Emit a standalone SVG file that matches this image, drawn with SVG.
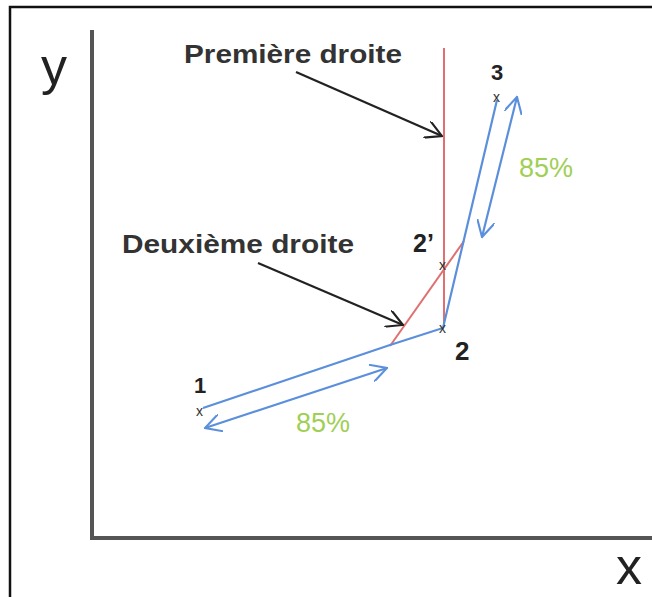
<svg xmlns="http://www.w3.org/2000/svg" width="652" height="597" viewBox="0 0 652 597">
<style>
.lbl{font-family:"Liberation Sans",Arial,sans-serif;fill:#222;}
.big{font-size:26px;font-weight:bold;fill:#333;}
.ax{font-size:52px;fill:#222;}
.pct{font-family:"Liberation Sans",Arial,sans-serif;font-size:27px;fill:#9fcf55;}
.mk{font-family:"Liberation Sans",Arial,sans-serif;font-size:14px;fill:#333;}
.blue{stroke:#5b8fdc;stroke-width:2.2;fill:none;}
.red{stroke:#e07070;stroke-width:2;fill:none;}
.blk{stroke:#222;stroke-width:2.2;fill:none;}
</style>
<defs>
<marker id="bh" viewBox="0 0 12 12" refX="11" refY="6" markerWidth="18" markerHeight="18" orient="auto-start-reverse" markerUnits="userSpaceOnUse">
<path d="M0,0 L11,6 L0,12" fill="none" stroke="#5b8fdc" stroke-width="1.4"/>
</marker>
<marker id="kh" viewBox="0 0 12 12" refX="11" refY="6" markerWidth="18" markerHeight="18" orient="auto" markerUnits="userSpaceOnUse">
<path d="M0,0 L11,6 L0,12" fill="none" stroke="#222" stroke-width="1.4"/>
</marker>
</defs>
<rect width="652" height="597" fill="#fff"/>
<path d="M10,597 L10,7 L652,7" fill="none" stroke="#111" stroke-width="2.5"/>
<g id="axes">
<path d="M92,30 L92,538 L652,538" fill="none" stroke="#555" stroke-width="4"/>
<text class="lbl ax" x="41" y="84">y</text>
<text class="lbl ax" x="616" y="584">x</text>
</g>
<g id="connectors">
<line class="red" x1="444" y1="48" x2="444" y2="325"/>
<line class="red" x1="390" y1="346" x2="464" y2="241"/>
<polyline class="blue" points="203,408 390,345 443,328 497,100"/>
<line class="blue" x1="205" y1="428" x2="387" y2="368" marker-start="url(#bh)" marker-end="url(#bh)"/>
<line class="blue" x1="517" y1="97" x2="482" y2="237" marker-start="url(#bh)" marker-end="url(#bh)"/>
<line class="blk" x1="296" y1="72" x2="442" y2="136" marker-end="url(#kh)"/>
<line class="blk" x1="258" y1="263" x2="403" y2="325" marker-end="url(#kh)"/>
</g>
<g id="premiere"><text class="lbl big" x="184" y="63" textLength="218" lengthAdjust="spacingAndGlyphs">Première droite</text></g>
<g id="deuxieme"><text class="lbl big" x="122" y="253" textLength="232" lengthAdjust="spacingAndGlyphs">Deuxième droite</text></g>
<g id="p1"><text class="lbl" x="194" y="393" font-size="22" font-weight="bold">1</text><text class="mk" x="196" y="416">x</text></g>
<g id="p2"><text class="lbl" x="455" y="360" font-size="26" font-weight="bold">2</text><text class="mk" x="439" y="333">x</text></g>
<g id="p2p"><text class="lbl" x="413" y="252" font-size="25" font-weight="bold">2’</text><text class="mk" x="439" y="270">x</text></g>
<g id="p3"><text class="lbl" x="491" y="80" font-size="22" font-weight="bold">3</text><text class="mk" x="493" y="102">x</text></g>
<g id="pct1"><text class="pct" x="519" y="177">85%</text></g>
<g id="pct2"><text class="pct" x="296" y="432">85%</text></g>
</svg>
